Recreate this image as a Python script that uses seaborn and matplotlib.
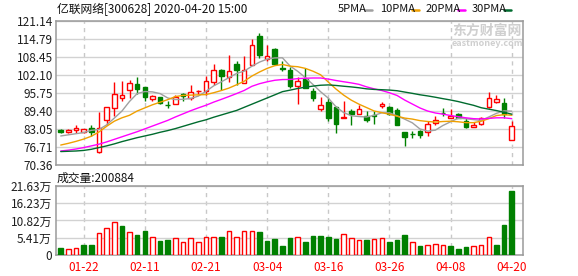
import matplotlib
matplotlib.use("Agg")
import matplotlib.pyplot as plt
from matplotlib.lines import Line2D
import numpy as np
import pandas as pd
import seaborn as sns

# ---------------- data ----------------
tick_idx = [3, 11, 19, 27, 35, 43, 51, 59]
tick_labels = ["01-22", "02-11", "02-21", "03-04", "03-16", "03-26", "04-08", "04-20"]

open_ = [82.7, 81.9, 82.6, 82.0, 83.3, 75.1, 86.3, 90.3, 94.0, 96.9,
         98.8, 97.8, 93.7, 94.2, 91.6, 92.0, 95.5, 94.1, 96.5, 96.6,
         99.5, 103.9, 101.5, 106.0, 99.2, 105.8, 115.8, 107.9, 111.3, 104.4,
         104.0, 98.1, 100.8, 96.5, 90.1, 92.6, 90.8, 87.1, 89.3, 88.5,
         87.8, 87.9, 91.0, 90.7, 89.7, 81.9, 81.3, 82.2, 81.9, 85.0,
         88.7, 87.0, 88.3, 85.8, 83.8, 84.8, 90.7, 92.4, 92.1, 79.1]
high = [83.2, 83.2, 84.3, 83.2, 84.3, 88.9, 90.9, 99.6, 100.0, 100.4,
        101.4, 98.0, 95.2, 94.5, 92.8, 95.1, 95.6, 98.5, 96.9, 101.7,
        106.0, 104.2, 109.1, 107.2, 108.7, 114.9, 117.0, 112.6, 111.7, 107.0,
        104.8, 101.3, 104.6, 97.5, 94.3, 94.0, 91.0, 92.8, 90.0, 91.4,
        89.3, 89.5, 92.6, 91.0, 90.4, 82.0, 82.4, 82.6, 85.7, 87.8,
        90.4, 90.2, 88.7, 86.9, 85.5, 87.4, 96.1, 94.9, 94.0, 85.8]
low = [81.6, 81.5, 81.8, 81.6, 80.6, 74.5, 84.5, 87.7, 93.1, 94.0,
       95.5, 92.8, 93.1, 91.9, 90.5, 91.8, 93.0, 93.4, 95.4, 95.0,
       98.4, 96.9, 99.6, 98.6, 99.2, 105.5, 108.1, 107.0, 105.9, 103.4,
       97.5, 91.8, 97.4, 93.1, 89.5, 85.9, 81.6, 87.0, 84.3, 88.4,
       85.4, 84.9, 90.3, 88.1, 84.4, 77.1, 80.0, 80.0, 80.7, 84.5,
       87.8, 86.9, 86.9, 83.4, 83.7, 84.5, 90.4, 92.3, 86.9, 79.1]
close = [82.0, 82.6, 83.4, 82.9, 82.1, 83.4, 90.7, 95.3, 95.2, 99.2,
         97.3, 94.2, 94.7, 92.3, 91.5, 94.4, 94.8, 96.0, 96.6, 99.9,
         104.0, 101.9, 103.4, 104.0, 104.0, 112.6, 109.2, 108.7, 106.1, 104.2,
         98.1, 99.9, 97.5, 94.0, 91.5, 86.9, 84.8, 87.25, 88.3, 90.0,
         86.1, 87.7, 91.7, 88.4, 84.5, 80.3, 81.2, 80.8, 84.8, 86.1,
         88.6, 87.7, 87.1, 83.8, 84.6, 87.1, 93.9, 93.5, 88.2, 84.0]
# volume in 万
volume = [2.2, 1.8, 2.1, 3.2, 3.2, 7.0, 8.4, 10.3, 9.2, 7.2,
          6.3, 7.6, 5.6, 4.4, 4.7, 5.3, 4.0, 5.3, 4.0, 5.6,
          5.6, 5.7, 7.5, 5.6, 7.5, 7.5, 7.3, 4.4, 5.1, 2.8,
          5.4, 5.6, 4.1, 6.0, 6.0, 5.7, 5.1, 6.6, 5.3, 4.7,
          4.7, 5.1, 5.3, 4.2, 4.7, 6.3, 4.1, 2.8, 3.2, 3.5,
          3.2, 2.8, 1.9, 2.5, 2.7, 3.1, 5.6, 3.2, 9.5, 20.09]
vol_up = [0, 1, 1, 0, 0, 1, 1, 1, 0, 1,
          0, 0, 1, 0, 0, 1, 1, 1, 1, 1,
          1, 0, 1, 1, 1, 1, 0, 0, 0, 0,
          0, 1, 0, 0, 0, 0, 0, 1, 1, 1,
          0, 1, 1, 0, 0, 0, 1, 0, 1, 1,
          1, 0, 0, 0, 1, 1, 1, 0, 0, 0]
ma5 = [80.6, 81.0, 81.4, 81.8, 82.58, 82.88, 84.5, 86.88, 89.36, 92.78,
       95.56, 96.26, 96.14, 95.54, 94.0, 93.42, 93.54, 93.8, 94.66, 96.34,
       98.26, 99.68, 101.16, 102.64, 103.46, 105.18, 106.64, 107.7, 108.12, 108.16,
       105.26, 103.4, 101.16, 98.74, 96.18, 93.94, 90.92, 88.87, 87.73, 87.45,
       87.29, 87.87, 88.76, 88.78, 87.68, 86.52, 85.22, 83.04, 82.32, 82.64,
       84.3, 85.6, 86.86, 86.66, 86.36, 86.06, 87.3, 88.58, 89.46, 89.34]
ma10 = [77.4, 78.0, 78.7, 79.5, 80.5, 82.0, 84.0, 85.8, 87.0, 87.9,
        89.4, 90.5, 91.6, 92.5, 93.4, 94.5, 94.9, 95.0, 95.1, 95.2,
        95.84, 96.61, 97.48, 98.65, 99.9, 101.72, 103.16, 104.43, 105.38, 105.81,
        105.22, 105.02, 104.43, 103.43, 102.17, 99.6, 97.16, 95.02, 93.24, 91.82,
        90.62, 89.4, 88.82, 88.26, 87.57, 86.9, 86.55, 86.0, 85.7, 85.5,
        85.7, 85.8, 85.6, 85.3, 85.3, 85.8, 86.7, 87.8, 88.1, 87.9]
ma20 = [75.3, 75.6, 76.0, 76.5, 77.1, 77.7, 78.5, 79.4, 80.3, 81.2,
        82.1, 83.1, 84.1, 85.1, 86.1, 87.3, 88.4, 89.5, 90.5, 91.43,
        92.53, 93.5, 94.5, 95.55, 96.65, 98.11, 99.03, 99.7, 100.24, 100.49,
        100.53, 100.82, 100.96, 101.04, 101.04, 100.66, 100.16, 99.72, 99.31, 98.81,
        97.92, 97.21, 96.62, 95.84, 94.87, 93.25, 91.85, 90.46, 89.39, 88.7,
        88.3, 87.8, 87.4, 87.0, 86.7, 86.6, 86.8, 87.0, 87.0, 86.7]
ma30 = [75.1, 75.2, 75.3, 75.5, 75.9, 76.5, 77.1, 77.8, 78.6, 79.3,
        80.0, 80.6, 81.2, 81.9, 82.5, 83.2, 84.0, 84.8, 85.6, 86.3,
        87.2, 88.0, 88.8, 89.6, 90.7, 91.8, 92.9, 94.0, 95.1, 96.22,
        96.76, 97.34, 97.81, 98.18, 98.49, 98.6, 98.41, 98.14, 97.9, 97.6,
        97.22, 97.01, 96.91, 96.78, 96.55, 96.08, 95.62, 95.12, 94.72, 94.26,
        93.75, 93.28, 92.73, 92.06, 91.41, 90.56, 90.05, 89.55, 88.95, 88.28]

price_ticks = [70.36, 76.71, 83.05, 89.40, 95.75, 102.10, 108.45, 114.79, 121.14]
vol_ticks = [0, 5.41, 10.82, 16.23, 21.63]
vol_tick_labels = ["0", "5.41万", "10.82万", "16.23万", "21.63万"]
ma_names = ["5PMA", "10PMA", "20PMA", "30PMA"]
ma_colors = ["#a0a0a0", "#f0a000", "#ff00ff", "#006b2e"]

title_text = "亿联网络[300628] 2020-04-20 15:00"
vol_title = "成交量:200884"

# ---------------- style ----------------
sns.set_theme(style="white")
plt.rcParams["font.family"] = ["Noto Sans CJK SC", "DejaVu Sans"]

RED = "#ff0000"
GREEN = "#008000"
GRID = "#d2d2d2"
SPINE = "#9a9a9a"
W, H = 578, 276

df = pd.DataFrame({"idx": np.arange(len(close)), "open": open_, "high": high,
                   "low": low, "close": close, "volume": volume, "vol_up": vol_up,
                   "ma5": ma5, "ma10": ma10, "ma20": ma20, "ma30": ma30})
df["up"] = df["close"] >= df["open"]

fig = plt.figure(figsize=(W / 100, H / 100), dpi=100)
fig.patch.set_facecolor("white")

def px_rect(l, t, r, b):
    return [l / W, 1 - b / H, (r - l) / W, (b - t) / H]

ax = fig.add_axes(px_rect(56, 21, 523, 165))
axv = fig.add_axes(px_rect(56, 186, 523, 255))

xlim = (-0.62, 60.47)
for a in (ax, axv):
    a.set_facecolor("white")
    a.set_xlim(*xlim)
    a.set_xticks(tick_idx)
    a.grid(axis="y", color=GRID, lw=1, ls="-")
    a.grid(axis="x", color="#c8c8c8", lw=1, ls=(0, (3, 3)))
    a.set_axisbelow(True)
    for s in a.spines.values():
        s.set_color(SPINE)
        s.set_linewidth(1.1)
        s.set_visible(True)
    a.tick_params(length=0)

# ---------------- candles ----------------
bw = 0.6
for _, r in df.iterrows():
    col = RED if r["up"] else GREEN
    ax.vlines(r["idx"], r["low"], r["high"], color=col, lw=1, zorder=2)
    lo = min(r["open"], r["close"])
    hgt = max(abs(r["close"] - r["open"]), 0.06)
    ax.bar(r["idx"], hgt, bottom=lo, width=bw,
           facecolor="white" if r["up"] else GREEN,
           edgecolor=col, lw=1, zorder=3)

for name, c in zip(["ma5", "ma10", "ma20", "ma30"], ma_colors):
    sns.lineplot(data=df, x="idx", y=name, ax=ax, color=c, lw=1.0,
                 legend=False, zorder=4)

ax.set_ylim(price_ticks[0], price_ticks[-1])
ax.set_yticks(price_ticks)
ax.set_yticklabels([f"{v:.2f}" for v in price_ticks], fontsize=8.5, color="#1e1e1e")
ax.tick_params(axis="y", pad=2)
ax.tick_params(axis="x", labelbottom=False)
ax.set_xlabel("")
ax.set_ylabel("")

# ---------------- volume ----------------
for _, r in df.iterrows():
    upv = r["vol_up"] == 1
    axv.bar(r["idx"], r["volume"], width=bw,
            facecolor="white" if upv else GREEN,
            edgecolor=RED if upv else GREEN, lw=1, zorder=3)
axv.set_ylim(0, vol_ticks[-1])
axv.set_yticks(vol_ticks)
axv.set_yticklabels(vol_tick_labels, fontsize=8.5, color="#1e1e1e")
axv.tick_params(axis="y", pad=3)
axv.set_xticklabels(tick_labels, fontsize=8.5, color=RED)
axv.tick_params(axis="x", pad=4)

# ---------------- texts ----------------
fig.text(57 / W, 1 - 9 / H, title_text, ha="left", va="center",
         fontsize=8.5, color="#111111")
fig.text(57 / W, 1 - 178 / H, vol_title, ha="left", va="center",
         fontsize=8.5, color="#111111")

leg_text_x = [338, 380, 426, 472]
leg_line_x = [(365, 372), (412, 419), (458, 465), (504, 511)]
for name, c, tx, (l0, l1) in zip(ma_names, ma_colors, leg_text_x, leg_line_x):
    fig.text(tx / W, 1 - 9 / H, name, ha="left", va="center", fontsize=8,
             color="#111111")
    fig.add_artist(Line2D([l0 / W, l1 / W], [1 - 10 / H, 1 - 10 / H],
                          color=c, lw=1.8, transform=fig.transFigure))

# watermark
fig.text(487 / W, 1 - 31 / H, "东方财富网", ha="center", va="center",
         fontsize=10, fontweight="bold", color="#cfcfcf", zorder=1)
fig.text(487 / W, 1 - 43 / H, "eastmoney.com", ha="center", va="center",
         fontsize=6.5, fontweight="bold", color="#cfcfcf", zorder=1)

fig.savefig("out.png", dpi=100, facecolor="white")
